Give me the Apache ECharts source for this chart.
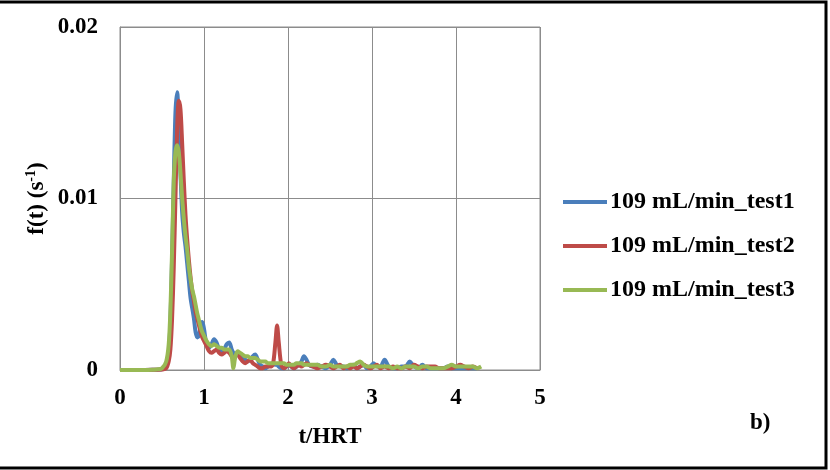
<!DOCTYPE html>
<html>
<head>
<meta charset="utf-8">
<script src="https://cdn.jsdelivr.net/npm/echarts@6/dist/echarts.min.js"></script>
<style>
html,body{margin:0;padding:0;background:#fff;}
#chart{width:830px;height:470px;}
</style>
</head>
<body>
<div id="chart"></div>
<script>
// t/HRT values (shared grid)
var tValues = [0.00,0.10,0.20,0.30,0.40,0.45,0.50,0.55,0.58,0.60,0.62,0.64,0.66,0.68,0.70,0.72,0.74,0.76,0.78,0.80,
  0.82,0.84,0.86,0.88,0.90,0.92,0.94,0.96,0.98,1.00,1.03,1.06,1.09,1.12,1.15,1.18,1.21,1.24,1.27,1.30,
  1.33,1.35,1.37,1.40,1.43,1.46,1.49,1.52,1.55,1.58,1.61,1.64,1.67,1.70,1.73,1.76,1.79,1.82,1.85,1.87,
  1.89,1.92,1.95,1.98,2.01,2.04,2.07,2.10,2.13,2.16,2.19,2.22,2.25,2.30,2.35,2.40,2.45,2.50,2.54,2.58,
  2.62,2.66,2.70,2.74,2.78,2.82,2.86,2.90,2.94,2.98,3.02,3.06,3.10,3.15,3.20,3.25,3.30,3.35,3.40,3.45,
  3.50,3.55,3.60,3.65,3.70,3.75,3.80,3.85,3.90,3.95,4.00,4.05,4.10,4.15,4.20,4.25,4.30];

var test1 = [0,0,0,0,0.00001,0.00002,0.00005,0.0003,0.0010,0.0028,0.0065,0.0110,0.0150,0.0162,0.0145,0.0115,0.0092,0.0080,0.0072,0.0062,
  0.0052,0.0042,0.0036,0.0030,0.0022,0.0019,0.0020,0.0026,0.0028,0.0024,0.0015,0.0013,0.0015,0.0018,0.0016,0.0012,0.0011,0.0012,0.0015,0.0016,
  0.0012,0.0010,0.0009,0.0010,0.0009,0.0007,0.0006,0.0005,0.0006,0.0008,0.0009,0.0006,0.0003,0.0002,0.0001,0.0002,0.0003,0.0004,0.0003,0.0003,
  0.0002,0.0001,0.0001,0.0002,0.0003,0.0002,0.0001,0.0002,0.0003,0.0005,0.0008,0.0006,0.0003,0.0002,0.0003,0.0002,0.0001,0.0003,0.0006,0.0003,
  0.0002,0.0002,0.0001,0.0002,0.0003,0.0001,0.0002,0.0003,0.0001,0.0002,0.0004,0.0002,0.0002,0.0006,0.0002,0.0001,0.0001,0.0002,0.0002,0.0005,
  0.0002,0.0001,0.0003,0.0001,0.0001,0.0001,0.0001,0.0001,0.0002,0.0001,0.0001,0.0001,0.0001,0.0001,0.0001,0.0001,null];

var test2 = [0,0,0,0,0.00001,0.00002,0.00003,0.0001,0.0005,0.0012,0.0030,0.0060,0.0100,0.0140,0.0157,0.0152,0.0132,0.0110,0.0090,0.0076,
  0.0064,0.0054,0.0046,0.0040,0.0034,0.0030,0.0026,0.0022,0.0019,0.0017,0.0014,0.0011,0.0010,0.0011,0.0012,0.0010,0.0009,0.0010,0.0011,0.0010,
  0.0008,0.0007,0.0008,0.0009,0.0007,0.0005,0.0004,0.0005,0.0006,0.0004,0.0003,0.0002,0.0001,0.0001,0.0002,0.0002,0.0002,0.0003,0.0016,0.0026,
  0.0016,0.0003,0.0001,0.0002,0.0004,0.0002,0.0001,0.0002,0.0003,0.0002,0.0003,0.0004,0.0003,0.0002,0.0001,0.0002,0.0003,0.0002,0.0001,0.0002,
  0.0003,0.0001,0.0002,0.0001,0.0002,0.0001,0.0002,0.0003,0.0002,0.0001,0.0002,0.0003,0.0001,0.0002,0.0001,0.0002,0.0001,0.0001,0.0002,0.0001,
  0.0003,0.0002,0.0001,0.0002,0.0002,0.0002,0.0001,0.0001,0.0001,0.0001,0.0002,0.0003,0.0002,0.0001,0.0002,0.0001,null];

var test3 = [0,0,0,0,0.00002,0.00004,0.0001,0.0005,0.0015,0.0035,0.0070,0.0110,0.0127,0.0131,0.0127,0.0115,0.0100,0.0088,0.0078,0.0070,
  0.0060,0.0053,0.0047,0.0043,0.0038,0.0033,0.0029,0.0025,0.0022,0.0020,0.0017,0.0015,0.0014,0.0015,0.0014,0.0013,0.0013,0.0012,0.0012,0.0012,
  0.0008,0.0001,0.0007,0.0011,0.0010,0.0009,0.0008,0.0008,0.0007,0.0007,0.0007,0.0006,0.0005,0.0005,0.0005,0.0004,0.0004,0.0004,0.0004,0.0004,
  0.0004,0.0004,0.0004,0.0003,0.0003,0.0003,0.0003,0.0004,0.0004,0.0004,0.0003,0.0003,0.0003,0.0003,0.0003,0.0002,0.0002,0.0003,0.0002,0.0002,
  0.0002,0.0002,0.0002,0.0003,0.0003,0.0004,0.0005,0.0003,0.0002,0.0002,0.0002,0.0002,0.0002,0.0002,0.0002,0.0001,0.0002,0.0001,0.0002,0.0002,
  0.0002,0.0001,0.0002,0.0002,0.0001,0.0001,0.0001,0.0001,0.0002,0.0003,0.0002,0.0002,0.0002,0.0002,0.0002,0.0001,0.0002];

var seriesNames = ['109 mL/min_test1','109 mL/min_test2','109 mL/min_test3'];
var seriesColors = ['#4a7ebb','#be4b48','#98b954'];
var xTicks = [0,1,2,3,4,5];
var yTicks = [0,0.01,0.02];

function pairs(vals){
  var out = [];
  for (var i = 0; i < tValues.length; i++) {
    if (vals[i] !== null && vals[i] !== undefined) out.push([tValues[i], vals[i]]);
  }
  return out;
}
var allVals = [test1, test2, test3];

var font = '"Liberation Serif", "Times New Roman", serif';
var chart = echarts.init(document.getElementById('chart'), null, {renderer:'canvas'});
var option = {
  backgroundColor: '#ffffff',
  animation: false,
  grid: { left: 120, right: 290, top: 27, bottom: 100, show: true, borderColor: '#8c8c8c', borderWidth: 1 },
  xAxis: {
    type: 'value', min: xTicks[0], max: xTicks[xTicks.length-1], interval: 1,
    axisLine: { show: true, lineStyle: { color: '#8c8c8c' } },
    axisTick: { show: false },
    splitLine: { show: true, lineStyle: { color: '#8c8c8c', width: 1 } },
    axisLabel: { color: '#000', fontFamily: font, fontWeight: 'bold', fontSize: 23, margin: 17 },
    name: 't/HRT', nameLocation: 'middle', nameGap: 56, nameMoveOverlap: false,
    nameTextStyle: { color: '#000', fontFamily: font, fontWeight: 'bold', fontSize: 23 }
  },
  yAxis: {
    type: 'value', min: yTicks[0], max: yTicks[yTicks.length-1], interval: 0.01,
    axisLine: { show: true, lineStyle: { color: '#8c8c8c' } },
    axisTick: { show: false },
    splitLine: { show: true, lineStyle: { color: '#8c8c8c', width: 1 } },
    axisLabel: { color: '#000', fontFamily: font, fontWeight: 'bold', fontSize: 23, margin: 22,
      formatter: function(v){ return v === 0 ? '0' : v.toFixed(2); } },
    name: 'f(t) (s{sup|-1})', nameLocation: 'middle', nameGap: 70, nameRotate: 90, nameMoveOverlap: false,
    nameTextStyle: { color: '#000', fontFamily: font, fontWeight: 'bold', fontSize: 23, lineHeight: 26,
      rich: { sup: { fontFamily: font, fontWeight: 'bold', fontSize: 14, lineHeight: 26, verticalAlign: 'top', padding: [0,0,10,0] } } }
  },
  legend: {
    orient: 'vertical', left: 558, top: 185, itemGap: 20,
    itemWidth: 44, itemHeight: 4, icon: 'rect',
    textStyle: { color: '#000', fontFamily: font, fontWeight: 'bold', fontSize: 24, padding: [0,0,0,-2] },
    data: seriesNames
  },
  series: seriesNames.map(function(n, i){
    return {
      name: n, type: 'line', data: pairs(allVals[i]), symbol: 'none', smooth: 0.3,
      lineStyle: { color: seriesColors[i], width: 4 }, itemStyle: { color: seriesColors[i] }, z: 2 + i
    };
  }),
  graphic: [
    { type: 'polyline', shape: { points: [[0,2],[826,2],[826,468],[0,468]] },
      style: { stroke: '#000', lineWidth: 3, fill: null }, silent: true },
    { type: 'text', left: 750, top: 412,
      style: { text: 'b)', font: 'bold 23px ' + font, fill: '#000' } }
  ]
};
chart.setOption(option);
</script>
</body>
</html>
